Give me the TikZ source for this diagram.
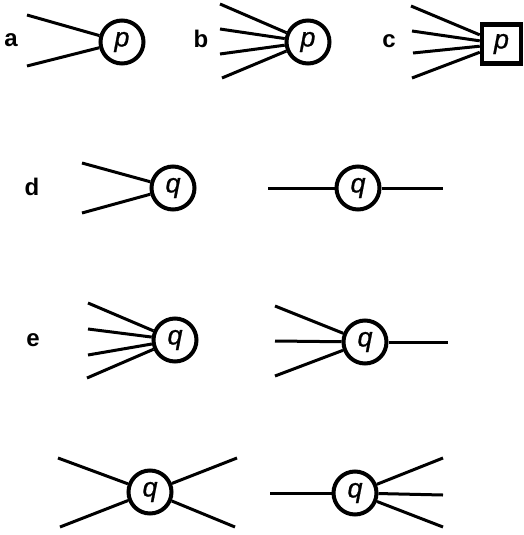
\documentclass[tikz,border=0pt]{standalone}
\usepackage{fontspec}
\setmainfont{Liberation Sans}
\newfontfamily\vtxfont{Liberation Sans Italic}[FakeBold=0.8]
\begin{document}
\begin{tikzpicture}[x=1pt,y=-1pt,
  vtx/.style={circle,draw,line width=4pt,minimum size=43pt,inner sep=0pt,
    font=\fontsize{27}{27}\vtxfont},
  boxvtx/.style={rectangle,draw,line width=4.5pt,minimum size=39pt,inner sep=0pt,
    font=\fontsize{27}{27}\vtxfont},
  tag/.style={font=\fontsize{24}{24}\selectfont\bfseries,inner sep=0pt},
  leg/.style={line width=3pt}]
\useasboundingbox (0,0) rectangle (523,535);

% row a, b, c
\node[tag] (la) at (11,40) {a};
\node[vtx] (A) at (122,42) {p};
\coordinate (a1) at (27,15); \coordinate (a2) at (27,66);
\draw[leg] (a1) -- (A); \draw[leg] (a2) -- (A);

\node[tag] (lb) at (201,39) {b};
\node[vtx] (B) at (308,42) {p};
\coordinate (b1) at (220,4); \coordinate (b2) at (220,29);
\coordinate (b3) at (220,54); \coordinate (b4) at (222,78);
\foreach \c in {b1,b2,b3,b4} \draw[leg] (\c) -- (B);

\node[tag] (lc) at (389,41) {c};
\node[boxvtx] (C) at (501.5,44) {p};
\coordinate (c1) at (411,6); \coordinate (c2) at (412,31);
\coordinate (c3) at (413,53); \coordinate (c4) at (412,78);
\foreach \c in {c1,c2,c3,c4} \draw[leg] (\c) -- (C);

% row d
\node[tag] (ld) at (32,187) {d};
\node[vtx] (D1) at (173,188) {q};
\coordinate (d1) at (82,163); \coordinate (d2) at (82,213);
\draw[leg] (d1) -- (D1); \draw[leg] (d2) -- (D1);
\node[vtx] (D2) at (358,188) {q};
\coordinate (d3) at (268,188); \coordinate (d4) at (443,188);
\draw[leg] (d3) -- (D2); \draw[leg] (D2) -- (d4);

% row e
\node[tag] (le) at (33,340) {e};
\node[vtx] (E1) at (175,340) {q};
\coordinate (e1) at (88,303); \coordinate (e2) at (88,329);
\coordinate (e3) at (88,355); \coordinate (e4) at (87,378);
\foreach \c in {e1,e2,e3,e4} \draw[leg] (\c) -- (E1);
\node[vtx] (E2) at (365,342) {q};
\coordinate (e5) at (275,306); \coordinate (e6) at (275,341);
\coordinate (e7) at (275,376); \coordinate (e8) at (448,342);
\foreach \c in {e5,e6,e7} \draw[leg] (\c) -- (E2);
\draw[leg] (E2) -- (e8);

% bottom row
\node[vtx] (F1) at (150,492) {q};
\coordinate (f1) at (58,458); \coordinate (f2) at (60,527);
\coordinate (f3) at (237,458); \coordinate (f4) at (235,527);
\foreach \c in {f1,f2,f3,f4} \draw[leg] (\c) -- (F1);
\node[vtx] (F2) at (355,493) {q};
\coordinate (f5) at (270,493); \coordinate (f6) at (443,458);
\coordinate (f7) at (443,495); \coordinate (f8) at (443,527);
\draw[leg] (f5) -- (F2);
\foreach \c in {f6,f7,f8} \draw[leg] (F2) -- (\c);
\end{tikzpicture}
\end{document}
